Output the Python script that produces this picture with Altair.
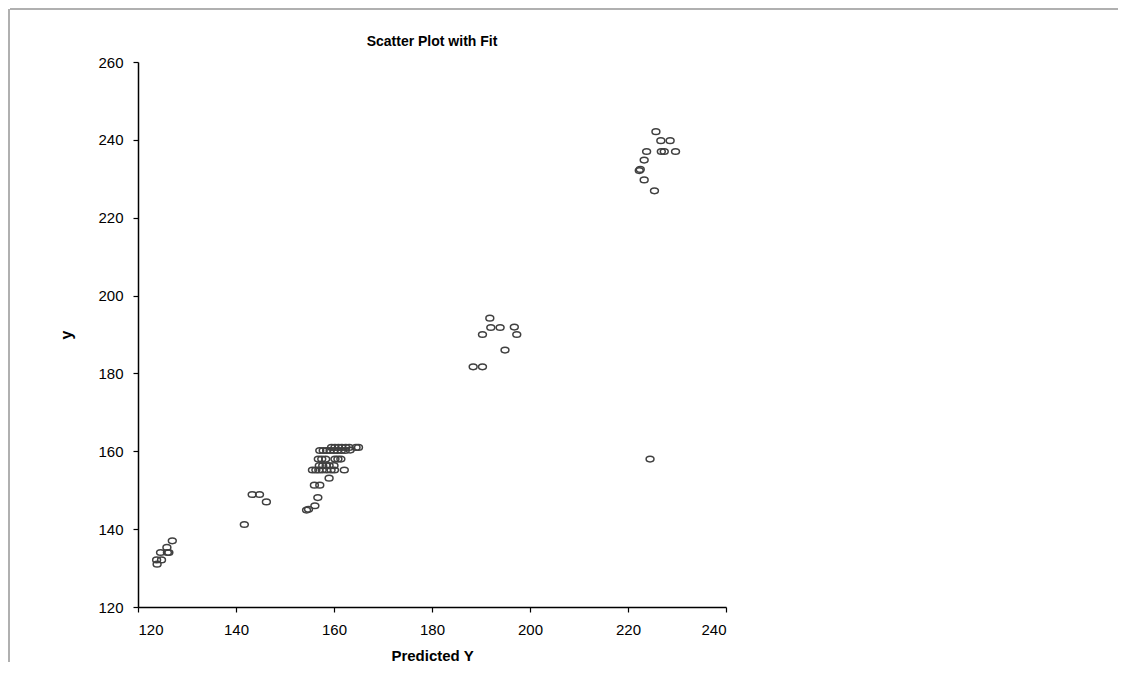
import altair as alt
import pandas as pd

# Predicted Y values
pred_y = [
    123.8, 123.9, 124.6, 124.8, 125.9, 126.0, 126.3, 127.0,
    141.7, 143.3, 144.8, 146.2,
    154.4, 154.8, 156.1, 156.7, 156.0, 157.1, 159.0,
    155.6, 156.3, 156.9, 157.6, 158.5, 159.4, 160.1, 162.1,
    157.0, 157.7, 158.4, 159.0, 160.0,
    156.8, 157.5, 158.3, 160.2, 160.8, 161.4,
    157.1, 157.8, 158.5, 159.2, 160.0, 160.7, 161.5, 162.3, 163.3,
    159.5, 160.2, 160.9, 161.6, 162.4, 163.1, 164.5, 165.0,
    191.8, 192.0, 193.9, 190.3, 196.8, 197.3, 194.9, 188.4, 190.3,
    225.7, 226.7, 228.6, 223.8, 226.8, 227.4, 229.7, 223.3, 222.3, 222.5,
    223.3, 225.4,
    224.5,
]
# Observed y values
obs_y = [
    132.1, 131.0, 134.0, 132.1, 135.3, 134.0, 134.0, 137.0,
    141.2, 148.9, 148.9, 147.0,
    144.9, 145.1, 146.0, 148.1, 151.3, 151.3, 153.1,
    155.2, 155.2, 155.2, 155.2, 155.2, 155.2, 155.2, 155.2,
    156.3, 156.3, 156.3, 156.3, 156.3,
    158.0, 158.0, 158.0, 158.0, 158.0, 158.0,
    160.2, 160.2, 160.2, 160.2, 160.2, 160.2, 160.2, 160.2, 160.3,
    161.0, 161.0, 161.0, 161.0, 161.0, 161.0, 161.0, 161.0,
    194.2, 191.8, 191.8, 190.0, 191.9, 190.0, 186.0, 181.7, 181.7,
    242.1, 239.8, 239.8, 237.0, 237.0, 237.0, 237.0, 234.8, 232.1, 232.4,
    229.7, 226.9,
    158.0,
]

x_ticks = [120, 140, 160, 180, 200, 220, 240]
y_ticks = [120, 140, 160, 180, 200, 220, 240, 260]
chart_title = "Scatter Plot with Fit"

df = pd.DataFrame({"pred": pred_y, "y": obs_y})

FONT = "Liberation Sans Narrow, Liberation Sans, Arial"
W, H = 588, 545
ellipse = "M -1 0 A 1 0.72 0 1 0 1 0 A 1 0.72 0 1 0 -1 0 Z"

points = alt.Chart(df).mark_point(
    shape=ellipse, filled=False, size=62, stroke="#404040", strokeWidth=1.5, opacity=1
).encode(
    x=alt.X("pred:Q", scale=alt.Scale(domain=[120, 240], nice=False, zero=False),
            axis=alt.Axis(values=x_ticks, title="Predicted Y", grid=False,
                          domainColor="black", domainWidth=1.5, tickColor="black",
                          tickSize=5, tickWidth=1.2, labelPadding=10,
                          labelFont=FONT, labelFontSize=15, labelColor="black",
                          titleFont=FONT, titleFontSize=15, titleFontWeight="bold",
                          titleColor="black", titleBaseline="middle", titleY=48)),
    y=alt.Y("y:Q", scale=alt.Scale(domain=[120, 260], nice=False, zero=False),
            axis=alt.Axis(values=y_ticks, title="y", grid=False,
                          domainColor="black", domainWidth=1.5, tickColor="black",
                          tickSize=5, tickWidth=1.2, labelPadding=10,
                          labelFont=FONT, labelFontSize=15, labelColor="black",
                          titleFont=FONT, titleFontSize=16, titleFontWeight="bold",
                          titleColor="black", titleX=-72, titleY=H / 2,
                          titleAngle=-90, titleBaseline="middle")),
)

one = pd.DataFrame({"a": [0]})
title_mark = alt.Chart(one).mark_text(
    font=FONT, fontSize=14, fontWeight="bold", color="black", baseline="middle", align="center"
).encode(x=alt.value(W / 2), y=alt.value(-20), text=alt.value(chart_title))

frame_top = alt.Chart(one).mark_rule(color="#b0b0b0", strokeWidth=2).encode(
    x=alt.value(-128), x2=alt.value(980), y=alt.value(-53)
)
frame_left = alt.Chart(one).mark_rule(color="#b0b0b0", strokeWidth=2).encode(
    x=alt.value(-129), y=alt.value(-53), y2=alt.value(660)
)

chart = alt.layer(frame_top, frame_left, title_mark, points).properties(
    width=W, height=H,
    autosize=alt.AutoSizeParams(type="none"),
    padding={"left": 130, "top": 54, "right": 392, "bottom": 55},
).configure_view(stroke=None)

chart.save("out.html", embed_options={"renderer": "svg", "actions": False})
